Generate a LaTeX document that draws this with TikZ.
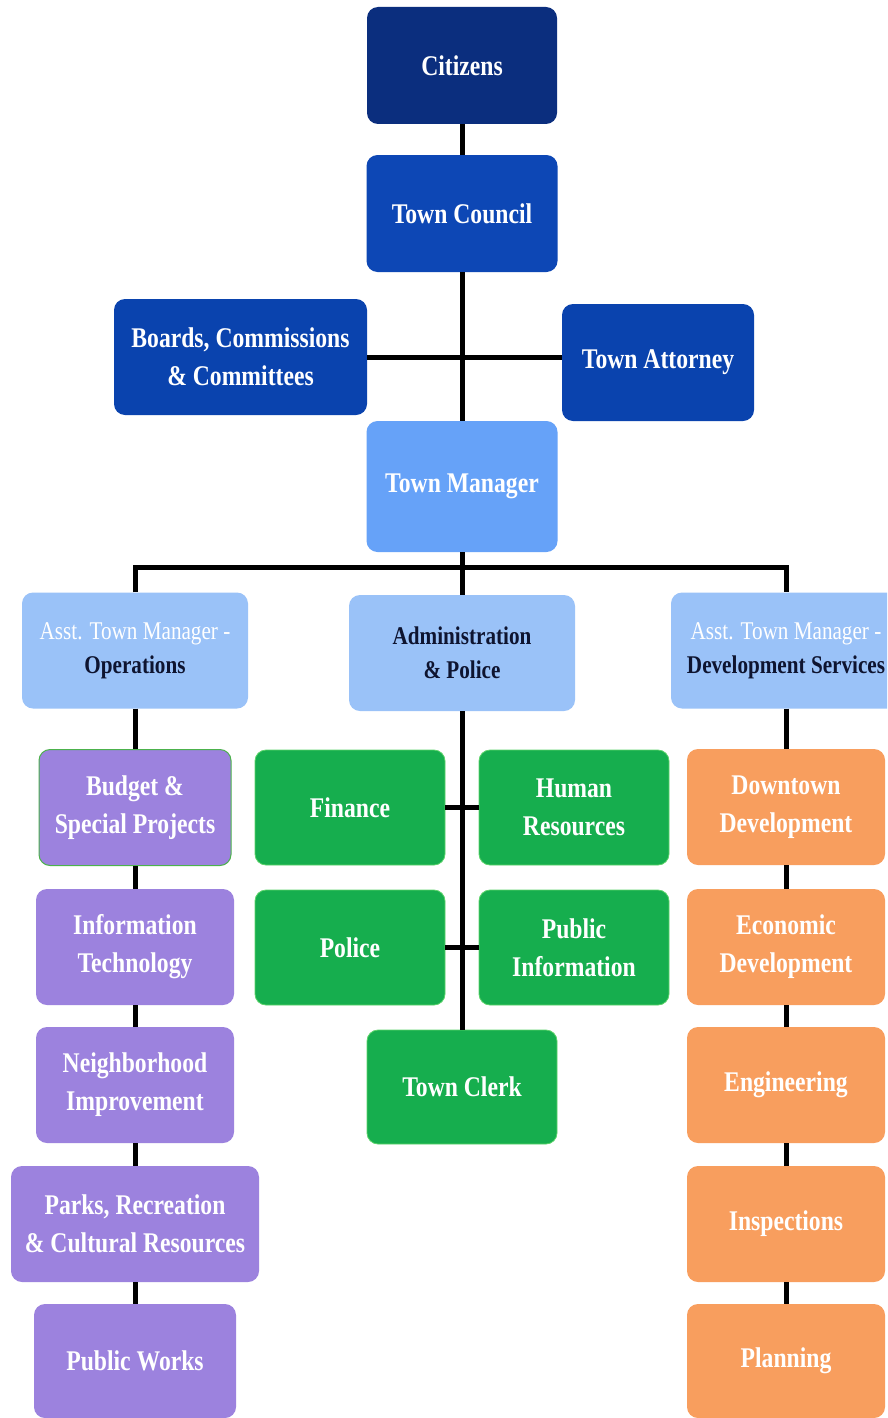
\documentclass[tikz,border=0pt]{standalone}
\usepackage{fontspec}
\setmainfont{Liberation Serif}
\newfontfamily\cfont[FakeStretch=0.83]{Liberation Serif}
\definecolor{cCit}{HTML}{0B2E7E}
\definecolor{cCouncil}{HTML}{0D47B5}
\definecolor{cBoard}{HTML}{0A43AE}
\definecolor{cMgr}{HTML}{66A2F8}
\definecolor{cRow}{HTML}{9AC2F8}
\definecolor{cPurple}{HTML}{9C82DE}
\definecolor{cGreen}{HTML}{16AE4E}
\definecolor{cGreenEdge}{HTML}{5CD36A}
\definecolor{cOrange}{HTML}{F89E5E}
\definecolor{cDark}{HTML}{0E1430}
\begin{document}
\begin{tikzpicture}[x=1pt,y=-1pt]
\tikzset{
  box/.style={rounded corners=11pt, align=center, inner sep=0pt, text=white,
    font=\cfont\bfseries\fontsize{28.5}{38}\selectfont},
  rowbox/.style={box, fill=cRow, minimum width=226pt, minimum height=116pt,
    font=\cfont\bfseries\fontsize{25.5}{34}\selectfont},
  purplebox/.style={box, fill=cPurple, minimum height=116pt},
  greenbox/.style={box, fill=cGreen, draw=cGreenEdge, line width=0.8pt, minimum width=190pt, minimum height=115pt},
  orangebox/.style={box, fill=cOrange, text=white, minimum width=198pt, minimum height=116pt},
  conn/.style={line width=5pt, draw=black}
}
\useasboundingbox (0,0) rectangle (887,1418);
\clip (0,0) rectangle (887,1418);
\fill[white] (0,0) rectangle (887,1418);

% top
\node[box, fill=cCit, minimum width=190pt, minimum height=117pt] (cit) at (462,65.5) {Citizens};
\node[box, fill=cCouncil, minimum width=191pt, minimum height=117pt] (council) at (462,213.5) {Town Council};
\node[box, fill=cBoard, minimum width=253pt, minimum height=116pt] (boards) at (240.5,357) {Boards, Commissions\\\& Committees};
\node[box, fill=cBoard, minimum width=192pt, minimum height=117pt] (attorney) at (658,362.5) {Town Attorney};
\node[box, fill=cMgr, minimum width=191pt, minimum height=131pt] (manager) at (462,486.5) {Town Manager};

% row 2
\node[rowbox] (ops) at (135,650.5) {{\mdseries\color{white}Asst. Town Manager -}\\{\color{cDark}Operations}};
\node[rowbox, text=cDark] (admin) at (462,653) {Administration\\\& Police};
\node[rowbox, minimum width=230pt] (dev) at (786,650.5) {{\mdseries\color{white}Asst. Town Manager -}\\{\color{cDark}Development Services}};

% left column
\node[purplebox, draw=gray!60!green, line width=1pt, minimum width=192pt] (budget) at (135,807.5) {Budget \&\\Special Projects};
\node[purplebox, minimum width=198pt] (it) at (135,947) {Information\\Technology};
\node[purplebox, minimum width=198pt] (neigh) at (135,1085) {Neighborhood\\Improvement};
\node[purplebox, minimum width=248pt] (parks) at (135,1224) {Parks, Recreation\\\& Cultural Resources};
\node[purplebox, minimum width=202pt, minimum height=114pt] (pw) at (135,1361) {Public Works};

% middle
\node[greenbox] (fin) at (350,807.5) {Finance};
\node[greenbox] (hr) at (574,807.5) {Human\\Resources};
\node[greenbox] (pol) at (350,947.5) {Police};
\node[greenbox] (pinfo) at (574,947.5) {Public\\Information};
\node[greenbox, minimum height=114pt] (clerk) at (462,1087) {Town Clerk};

% right column
\node[orangebox] (down) at (786,807) {Downtown\\Development};
\node[orangebox] (econ) at (786,947) {Economic\\Development};
\node[orangebox] (eng) at (786,1085) {Engineering};
\node[orangebox] (insp) at (786,1224) {Inspections};
\node[orangebox, minimum height=114pt] (plan) at (786,1361) {Planning};

% connectors
\coordinate (busc) at (462,567);
\draw[conn] (cit.south) -- (council.north);
\draw[conn] (council.south) -- (manager.north);
\draw[conn] (boards.east) -- (boards.east -| attorney.west);
\draw[conn] (manager.south) -- (admin.north);
\draw[conn] (ops.north) |- (busc) -| (dev.north);

\draw[conn] (ops.south) -- (budget.north);
\draw[conn] (budget.south) -- (it.north);
\draw[conn] (it.south) -- (neigh.north);
\draw[conn] (neigh.south) -- (parks.north);
\draw[conn] (parks.south) -- (pw.north);

\draw[conn] (admin.south) -- (clerk.north);
\draw[conn] (fin.east) -- (hr.west);
\draw[conn] (pol.east) -- (pinfo.west);

\draw[conn] (dev.south) -- (down.north);
\draw[conn] (down.south) -- (econ.north);
\draw[conn] (econ.south) -- (eng.north);
\draw[conn] (eng.south) -- (insp.north);
\draw[conn] (insp.south) -- (plan.north);
\end{tikzpicture}
\end{document}
